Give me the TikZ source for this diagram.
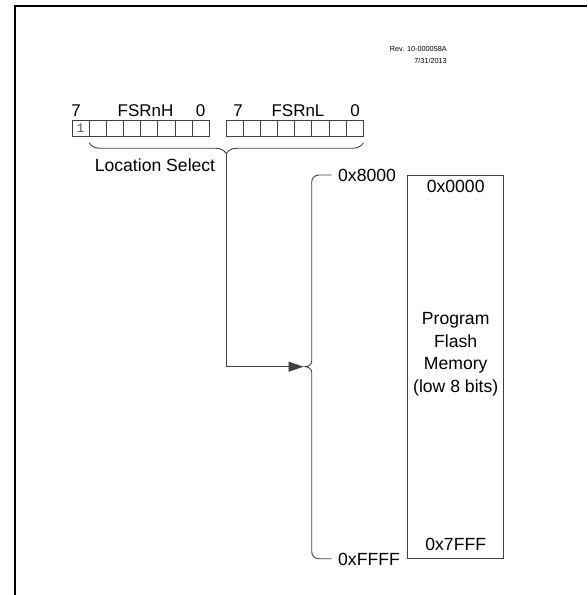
\documentclass[tikz,border=0pt]{standalone}
\usepackage{fontspec}
\setmainfont{Liberation Sans}
\newfontfamily\bitfont{Liberation Mono}
\usetikzlibrary{arrows.meta,positioning,decorations.pathreplacing}
\definecolor{lineGray}{HTML}{404040}

\begin{document}
\begin{tikzpicture}[
    x=1pt, y=-1pt,
    every node/.style={font=\fontsize{17.6}{22.5}\selectfont},
    bitcell/.style={draw=lineGray, line width=0.9pt, minimum width=17.17pt,
                    minimum height=16.5pt, inner sep=0pt, outer sep=0pt},
    lbl/.style={inner sep=0pt},
    reglbl/.style={lbl, anchor=base, font=\fontsize{17}{17}\selectfont},
    wire/.style={draw=lineGray, line width=0.9pt},
    arr/.style={wire, -{Triangle[length=15pt,width=10pt]}},
    membox/.style={draw=lineGray, line width=0.9pt, minimum width=96pt,
                   minimum height=383.7pt, inner sep=0pt}
  ]
  \useasboundingbox (0,0) rectangle (587,595);
  % page frame
  \draw[line width=2.2pt] (15,595) -- (15,5.8) -- (587,5.8);

  \node[lbl, align=right, anchor=east, font=\fontsize{7.3}{11.4}\selectfont] (rev) at (447,55) {Rev. 10-000058A\\7/31/2013};

  % FSRnH / FSRnL registers
  \foreach \b in {0,...,7} {
    \node[bitcell] (h\b) at ({80.6+17.17*(7-\b)},128.3) {};
    \node[bitcell] (l\b) at ({234.6+17.17*(7-\b)},128.3) {};
  }
  \node[lbl, text=black!65, font=\bitfont\fontsize{13}{13}\selectfont] (one) at (h7) {1};

  \node[reglbl] (h7lbl) at (76,116.8) {7};
  \node[reglbl] (h0lbl) at (200.5,116.8) {0};
  \node[reglbl] (l7lbl) at (238,116.8) {7};
  \node[reglbl] (l0lbl) at (355,116.8) {0};
  \node[reglbl] (hname) at (145.5,116.8) {FSRnH};
  \node[reglbl] (lname) at (298,116.8) {FSRnL};

  \draw[wire, decorate, decoration={brace, mirror, amplitude=11pt}]
    ([yshift=-6.2pt]h6.south west) -- ([yshift=-6.2pt]l0.south east);
  \coordinate (sel) at (226.3,154);
  \node[lbl] (selname) at (155,165) {Location Select};

  % address range brace
  \coordinate (btop) at (331.7,175);
  \coordinate (bbot) at (331.7,558.7);
  \coordinate (tip) at (305,366.7);
  \draw[wire, rounded corners=7pt] (btop) -- (311.7,175) -- (311.7,361);
  \draw[wire] (311.7,361) to[out=-90,in=0] (tip) to[out=0,in=90] (311.7,372.4);
  \draw[wire, rounded corners=7pt] (311.7,372.4) -- (311.7,558.7) -- (bbot);
  \node[lbl, anchor=west] (lo) at (338,175) {0x8000};
  \node[lbl, anchor=west] (hi) at (338,559) {0xFFFF};

  \draw[arr] (sel) |- ([xshift=-1.5pt]tip);

  % program flash
  \node[membox] (mem) at (455.8,366.9) {};
  \node[lbl] (mtop) at (455.7,186.7) {0x0000};
  \node[lbl] (mbot) at (455.7,544.3) {0x7FFF};
  \node[lbl, align=center] (mtext) at (455.7,354.5) {Program\\Flash\\Memory\\(low 8 bits)};
\end{tikzpicture}
\end{document}
